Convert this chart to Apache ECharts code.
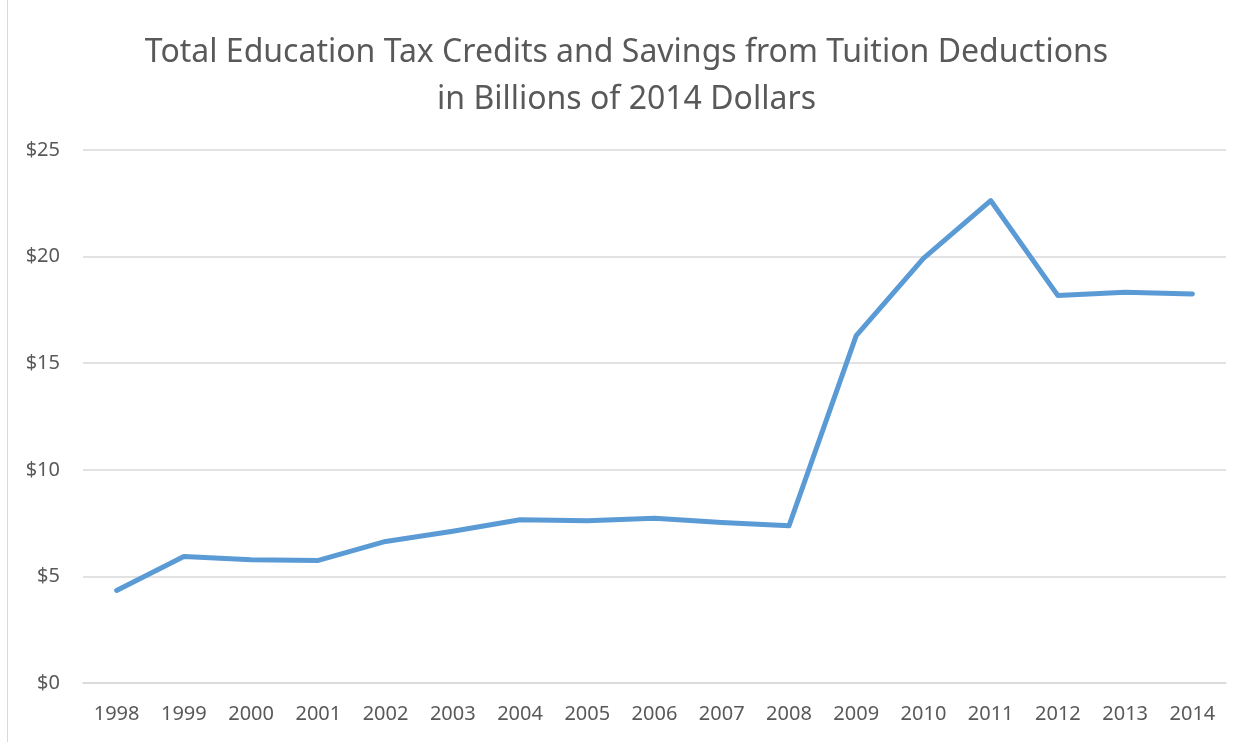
<!DOCTYPE html>
<html>
<head>
<meta charset="utf-8">
<script src="https://cdn.jsdelivr.net/npm/echarts@6/dist/echarts.min.js"></script>
<style>
  html, body { margin: 0; padding: 0; background: #fff; }
  #chart { width: 1253px; height: 742px; }
</style>
</head>
<body>
<div id="chart"></div>
<script>
// Fiscal years on the horizontal axis
const years = ['1998', '1999', '2000', '2001', '2002', '2003', '2004', '2005', '2006',
  '2007', '2008', '2009', '2010', '2011', '2012', '2013', '2014'];

// Total credits and deduction savings, billions of 2014 dollars
const totals = [4.34, 5.93, 5.78, 5.75, 6.64, 7.12, 7.66, 7.61, 7.73,
  7.53, 7.37, 16.29, 19.92, 22.63, 18.17, 18.33, 18.25];

const titleLines = [
  'Total Education Tax Credits and Savings from Tuition Deductions',
  'in Billions of 2014 Dollars'
];

const FONT = '"Noto Sans", "Open Sans", sans-serif';
const TEXT = '#595959';

const chart = echarts.init(document.getElementById('chart'));
chart.setOption({
  animation: false,
  backgroundColor: '#fff',
  title: {
    text: titleLines.join('\n'),
    left: 'center',
    top: 24,
    textStyle: {
      fontFamily: FONT,
      fontSize: 32,
      fontWeight: 'normal',
      color: TEXT,
      lineHeight: 47
    }
  },
  graphic: [{
    type: 'line',
    shape: { x1: 7.5, y1: 0, x2: 7.5, y2: 742 },
    style: { stroke: '#d9d9d9', lineWidth: 1 }
  }],
  grid: { left: 83, right: 27, top: 150, bottom: 59 },
  xAxis: {
    type: 'category',
    data: years,
    boundaryGap: true,
    axisLine: { show: true, lineStyle: { color: '#d9d9d9', width: 1.5 } },
    axisTick: { show: false },
    axisLabel: {
      fontFamily: FONT,
      fontSize: 20,
      color: TEXT,
      margin: 21
    }
  },
  yAxis: {
    type: 'value',
    min: 0,
    max: 25,
    interval: 5,
    axisLine: { show: false },
    axisTick: { show: false },
    axisLabel: {
      fontFamily: FONT,
      fontSize: 20,
      color: TEXT,
      margin: 23,
      formatter: v => '$' + v
    },
    splitLine: { lineStyle: { color: '#d9d9d9', width: 1.5 } }
  },
  series: [{
    type: 'line',
    data: totals,
    symbol: 'none',
    lineStyle: { color: '#5b9bd5', width: 5, cap: 'round', join: 'round' }
  }]
});
</script>
</body>
</html>
